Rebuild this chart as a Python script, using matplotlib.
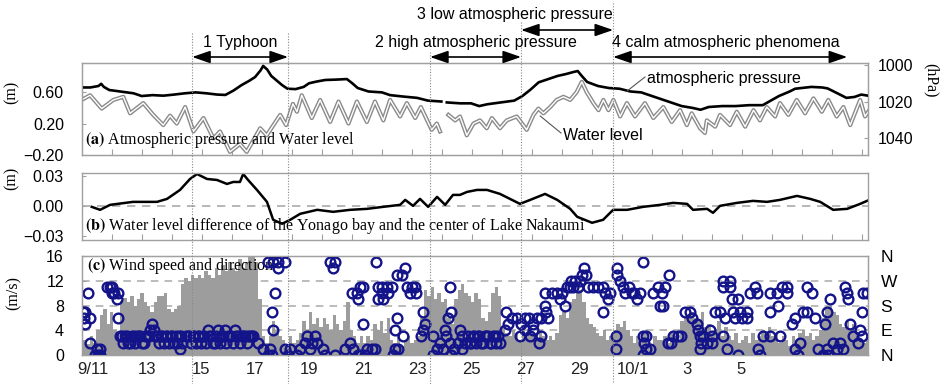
import numpy as np
import matplotlib
matplotlib.use('Agg')
import matplotlib.pyplot as plt

plt.rcParams['font.family'] = ['Liberation Sans', 'DejaVu Sans']
plt.rcParams['mathtext.fontset'] = 'stix'
nan = np.nan

# ---------------- data (time = day number counted from 9/1; 10/1 = 31) ----------
tick_days = [11, 13, 15, 17, 19, 21, 23, 25, 27, 29, 31, 33, 35]
tick_labels = ['9/11', '13', '15', '17', '19', '21', '23', '25', '27', '29', '10/1', '3', '5']
x_min, x_max = 10.59, 39.70

period_bounds = [14.67, 18.22, 23.48, 26.85, 30.26]

pres_days = [10.6, 10.9, 11.2, 11.3, 11.4, 11.6, 12.0, 12.5, 12.8, 13.2,
             13.6, 14.0, 14.4, 14.8, 15.2, 15.6, 15.9, 16.2, 16.5, 16.8,
             17.0, 17.2, 17.3, 17.45, 17.6, 17.8, 18.0, 18.2, 18.5, 18.8,
             19.0, 19.3, 19.6, 20.0, 20.4, 20.6, 20.8, 21.2, 21.7, 22.0,
             22.5, 23.0, 23.4, 23.9, 23.95, 24.1, 24.6, 25.0, 25.3, 25.6,
             26.1, 26.6, 26.9, 27.2, 27.5, 27.9, 28.2, 28.5, 28.8, 28.95,
             29.1, 29.3, 29.7, 30.1, 30.5, 30.9, 31.3, 31.7, 32.0, 32.4,
             32.8, 33.2, 33.5, 33.8, 34.3, 34.8, 35.3, 35.8, 36.1, 36.4,
             36.8, 37.0, 37.3, 37.6, 38.0, 38.2, 38.5, 38.9, 39.2, 39.45, 39.7]
pres_hpa = [1012.3, 1012.3, 1011.5, 1010.3, 1012.0, 1013.7, 1014.5, 1015.5, 1017.0, 1016.5,
            1016.8, 1016.2, 1015.5, 1015.0, 1015.5, 1016.2, 1016.4, 1014.0, 1011.0, 1008.5,
            1006.6, 1003.0, 1000.5, 1002.5, 1006.0, 1008.5, 1011.0, 1013.0, 1013.2, 1012.0,
            1010.0, 1009.0, 1008.2, 1008.0, 1007.7, 1010.0, 1012.6, 1014.5, 1015.0, 1016.5,
            1017.3, 1018.0, 1019.5, 1020.0, nan, 1020.5, 1021.0, 1021.0, 1022.5, 1021.5,
            1020.5, 1019.5, 1017.0, 1013.5, 1009.5, 1007.5, 1006.0, 1005.0, 1003.8, 1003.3,
            1006.0, 1009.3, 1011.5, 1012.6, 1013.0, 1014.5, 1015.0, 1017.0, 1018.5, 1020.5,
            1022.5, 1023.5, 1024.5, 1023.0, 1022.5, 1022.5, 1022.0, 1022.0, 1019.5, 1017.0,
            1014.5, 1013.0, 1012.5, 1012.0, 1012.3, 1012.8, 1015.0, 1018.0, 1017.5, 1016.2, 1016.8]

wl_days = [10.63, 10.89, 11.32, 11.75, 12.12, 12.37, 12.86, 13.23, 13.60, 13.85,
           14.10, 14.41, 14.72, 15.09, 15.46, 15.70, 16.07, 16.44, 16.69, 17.19,
           17.43, 17.93, 18.15, 18.40, 18.55, 18.73, 19.10, 19.41, 19.78, 20.09,
           20.46, 20.77, 21.14, 21.44, 21.75, 22.00, 22.37, 22.62, 22.93, 23.14,
           23.54, 23.73, 23.85, 23.95, 24.16, 24.41, 24.59, 24.84, 25.09, 25.33,
           25.58, 25.77, 26.07, 26.32, 26.69, 27.06, 27.31, 27.49, 27.68, 27.93,
           28.17, 28.42, 28.67, 28.91, 29.10, 29.28, 29.53, 29.72, 29.90, 30.09,
           30.27, 30.52, 30.77, 31.07, 31.44, 31.75, 32.12, 32.43, 32.74, 32.99,
           33.17, 33.48, 33.66, 33.73, 34.04, 34.22, 34.59, 34.84, 35.15, 35.46,
           35.70, 35.95, 36.26, 36.44, 36.75, 37.06, 37.37, 37.68, 37.99, 38.23,
           38.54, 38.79, 39.04, 39.41, 39.59, 39.75]
wl_m = [0.51, 0.56, 0.39, 0.50, 0.54, 0.33, 0.46, 0.31, 0.18, 0.30,
        0.20, 0.41, 0.10, 0.27, 0.01, 0.10, -0.16, -0.06, -0.16, 0.14,
        0.05, 0.31, 0.18, 0.45, 0.35, 0.56, 0.27, 0.50, 0.22, 0.48,
        0.20, 0.48, 0.22, 0.48, 0.24, 0.50, 0.29, 0.46, 0.27, 0.41,
        0.12, 0.20, 0.10, nan, 0.31, 0.24, 0.29, 0.05, 0.20, 0.24,
        0.14, 0.27, 0.14, 0.24, 0.29, 0.12, 0.31, 0.39, 0.33, 0.41,
        0.50, 0.54, 0.50, 0.60, 0.73, 0.60, 0.46, 0.37, 0.50, 0.37,
        0.50, 0.29, 0.46, 0.29, 0.46, 0.27, 0.41, 0.22, 0.37, 0.18,
        0.33, 0.14, 0.08, 0.24, 0.16, 0.31, 0.18, 0.35, 0.16, 0.37,
        0.24, 0.41, 0.29, 0.46, 0.31, 0.50, 0.33, 0.52, 0.35, 0.50,
        0.29, 0.41, 0.18, 0.50, 0.29, 0.37]

diff_days = [10.95, 11.26, 11.63, 12.48, 13.37, 13.74, 14.22, 14.59, 14.85, 15.22,
             15.59, 15.96, 16.19, 16.44, 16.56, 16.74, 17.07, 17.44, 17.67, 18.00,
             18.30, 18.67, 19.30, 19.89, 20.52, 21.15, 21.74, 22.37, 22.56, 22.85,
             23.11, 23.41, 23.74, 24.04, 24.33, 24.59, 24.85, 25.22, 25.59, 26.07,
             26.81, 27.19, 27.74, 28.19, 28.67, 28.93, 29.48, 29.89, 30.26, 30.78,
             31.37, 32.00, 32.48, 33.00, 33.22, 33.74, 33.96, 34.22, 34.85, 35.44,
             35.96, 36.44, 37.07, 37.56, 37.93, 38.41, 38.93, 39.41, 39.75]
diff_m = [-0.001, -0.004, 0.001, 0.004, 0.004, 0.007, 0.016, 0.027, 0.032, 0.027,
          0.026, 0.022, 0.024, 0.024, 0.032, 0.026, 0.016, 0.004, -0.014, -0.018,
          -0.014, -0.008, -0.004, -0.006, -0.004, -0.003, -0.001, 0.001, 0.006, 0.000,
          0.007, -0.001, 0.009, 0.001, 0.011, 0.011, 0.014, 0.016, 0.016, 0.012,
          0.002, 0.006, 0.012, 0.006, -0.003, -0.011, -0.017, -0.014, -0.004, -0.004,
          -0.001, 0.001, 0.003, 0.002, -0.004, -0.003, -0.007, 0.000, 0.003, 0.005,
          0.004, 0.006, 0.010, 0.007, 0.004, -0.004, -0.003, 0.002, 0.006]

# wind speed, 3-hourly, first value 9/10 12:00
wind_start = 10.5
wind_step = 0.125
wind_speed = [2.0, 2.5, 1.8, 3.0,
              2.0, 4.0, 6.5, 7.5, 5.0, 7.0, 4.0, 2.5,
              8.8, 9.2, 8.5, 9.5, 8.0, 9.0, 10.0, 8.5,
              8.0, 7.0, 8.5, 9.5, 9.5, 10.0, 7.5, 7.0,
              7.5, 8.0, 11.5, 12.5, 12.0, 13.0, 12.5, 13.0,
              12.5, 13.5, 13.0, 12.5, 14.0, 13.0, 14.5, 13.5,
              15.0, 14.0, 13.5, 15.5, 14.0, 15.0, 16.5, 16.0,
              15.0, 9.0, 3.0, 2.0, 3.0, 5.5, 4.0, 3.0,
              2.5, 1.5, 3.0, 2.0, 2.5, 3.5, 5.5, 4.0,
              7.0, 5.0, 6.0, 4.5, 6.0, 5.0, 4.0, 6.5,
              5.0, 4.0, 5.5, 8.5, 4.0, 3.0, 2.0, 3.0,
              2.0, 3.0, 2.5, 5.0, 4.0, 5.5, 3.5, 6.0,
              2.5, 2.0, 3.0, 1.5, 2.5, 3.0, 2.0, 2.5,
              3.0, 6.0, 10.5, 9.5, 11.0, 9.0, 10.0, 8.5,
              9.0, 6.0, 5.0, 9.0, 10.5, 11.5, 10.0, 9.5,
              8.5, 10.0, 9.0, 6.0, 5.5, 7.0, 10.0, 11.0,
              9.5, 4.5, 3.5, 3.0, 4.0, 3.5, 2.5, 4.5,
              3.0, 4.0, 3.5, 2.5, 4.0, 3.0, 2.5, 3.0,
              2.5, 3.5, 6.5, 7.0, 6.0, 8.5, 9.0, 10.0,
              10.5, 8.5, 6.0, 5.0, 4.5, 3.5, 3.0, 4.0,
              2.5, 3.0, 4.0, 5.0, 4.5, 5.5, 4.0, 3.0,
              2.0, 3.0, 2.5, 3.5, 2.0, 1.5, 3.0, 2.5,
              2.5, 3.0, 2.0, 3.5, 3.0, 2.5, 5.5, 6.0,
              6.5, 7.0, 6.0, 5.5, 7.0, 4.5, 5.0, 3.5,
              4.0, 5.5, 3.0, 4.5, 3.0, 2.5, 3.5, 2.0,
              2.5, 3.0, 2.0, 3.5, 2.5, 3.0, 4.0, 3.5,
              4.5, 3.0, 3.5, 2.0, 3.0, 2.5, 1.5, 3.0,
              2.5, 3.5, 4.0, 3.0, 3.5, 2.5, 3.0, 4.0,
              6.0, 7.5, 8.0, 7.0, 6.5, 5.0, 4.5, 5.5,
              4.0, 5.0, 3.0, 2.5, 2.0, 3.0]

compass = ['N', 'NNE', 'NE', 'ENE', 'E', 'ESE', 'SE', 'SSE',
           'S', 'SSW', 'SW', 'WSW', 'W', 'WNW', 'NW', 'NNW']
dir_days = [10.62, 10.66, 10.70, 10.70, 10.81, 10.89, 10.89, 11.07, 11.15, 11.19,
            11.26, 11.26, 11.52, 11.63, 11.70, 11.70, 11.78, 11.89, 11.93, 11.93,
            12.00, 12.12, 12.25, 12.38, 12.50, 12.62, 12.75, 12.88, 13.00, 13.12,
            13.19, 13.25, 13.38, 13.50, 13.62, 13.75, 13.88, 14.00, 14.12, 14.25,
            14.22, 14.50, 14.62, 14.75, 14.88, 15.00, 15.12, 15.25, 15.38, 15.50,
            15.62, 15.75, 15.88, 16.00, 16.12, 16.25, 16.38, 16.50, 16.62, 16.75,
            16.88, 16.93, 17.11, 17.30, 17.48, 17.56, 17.63, 17.67, 17.63, 17.74,
            17.48, 17.67, 17.85, 18.11, 17.85, 18.11, 18.22, 18.30, 18.56, 18.67,
            18.85, 18.93, 19.04, 19.11, 19.22, 19.30, 19.52, 19.59, 19.78, 19.96,
            19.89, 19.96, 20.33, 20.52, 20.63, 20.81, 20.93, 20.58, 20.77, 20.81,
            20.89, 21.01, 21.00, 21.07, 21.15, 21.33, 21.44, 21.48, 21.56, 21.70,
            21.89, 22.07, 21.56, 21.74, 21.70, 21.93, 22.19, 22.26, 22.19, 22.30,
            22.11, 22.24, 22.43, 22.56, 22.48, 22.63, 22.81, 22.93, 22.74, 22.96,
            23.22, 23.30, 23.22, 23.15, 23.59, 23.59, 23.74, 23.85, 23.96, 24.22,
            24.26, 24.15, 24.04, 24.08, 24.22, 24.35, 24.26, 24.59, 24.67, 24.67,
            24.52, 24.78, 24.90, 25.00, 25.12, 25.25, 25.38, 25.50, 25.62, 25.75,
            25.88, 26.00, 26.07, 26.26, 26.37, 26.30, 26.52, 26.70, 26.85, 27.00,
            27.15, 27.30, 27.45, 27.60, 26.80, 27.00, 27.20, 27.30, 27.50, 27.60,
            27.74, 27.74, 27.78, 27.85, 28.00, 28.19, 28.30, 28.48, 28.37, 28.56,
            28.67, 28.78, 28.70, 28.85, 29.04, 28.96, 29.10, 29.20, 29.26, 29.33,
            29.52, 29.70, 29.89, 29.96, 30.15, 30.07, 29.89, 30.41, 30.41, 30.52,
            30.63, 30.70, 30.85, 30.96, 31.04, 31.15, 31.26, 30.37, 30.37, 31.37,
            31.37, 31.48, 31.41, 31.48, 31.37, 31.63, 31.74, 31.93, 32.07, 32.19,
            32.33, 32.00, 32.11, 32.30, 32.48, 32.67, 32.78, 32.40, 32.93, 33.11,
            33.17, 33.35, 33.41, 33.48, 33.52, 33.48, 33.59, 33.74, 33.93, 33.93,
            33.85, 34.33, 34.59, 34.33, 34.59, 34.04, 34.22, 34.41, 34.70, 34.78,
            34.96, 35.04, 35.22, 35.22, 34.33, 34.48, 34.67, 34.89, 34.89, 35.33,
            35.59, 35.52, 35.63, 35.70, 35.81, 36.07, 36.07, 36.37, 36.07, 36.33,
            36.52, 36.70, 36.70, 36.44, 36.89, 37.00, 37.00, 37.19, 37.11, 37.30,
            37.44, 37.44, 37.63, 37.74, 37.85, 38.04, 38.19, 38.22, 38.41, 38.56,
            38.67, 38.78, 38.19, 38.11, 38.30, 38.85, 38.93, 38.96, 39.04, 39.15,
            39.48, 39.41, 39.33, 39.48, 39.52, 39.67,
            # extra observations filling the dense NE/ENE band of 9/12-9/17 and 9/25
            12.06, 12.19, 12.31, 12.44, 12.56, 12.69, 12.81, 12.94, 13.06, 13.31,
            13.44, 13.56, 13.69, 13.81, 13.94, 14.06, 14.19, 14.31, 14.44, 14.56,
            14.69, 14.81, 14.94, 15.06, 15.19, 15.31, 15.44, 15.56, 15.69, 15.81,
            15.94, 16.06, 16.19, 16.31, 16.44, 16.56, 16.69, 16.81, 24.96, 25.06,
            25.19, 25.31, 25.44, 25.56, 25.69, 25.81, 25.94]
dir_pts = ['SSE', 'SE', 'SSE', 'ESE', 'SW', 'SE', 'NE', 'N', 'NNE', 'N',
           'N', 'NNE', 'WSW', 'WSW', 'WSW', 'SW', 'SW', 'SSW', 'SW', 'SE',
           'ENE', 'NE', 'ENE', 'NE', 'ENE', 'ENE', 'ENE', 'NE', 'ENE', 'E',
           'ESE', 'E', 'ENE', 'ENE', 'NE', 'ENE', 'ENE', 'NE', 'NE', 'ENE',
           'NNE', 'ENE', 'NE', 'ENE', 'ENE', 'NE', 'ENE', 'E', 'ENE', 'NE',
           'E', 'ENE', 'E', 'ENE', 'ENE', 'E', 'ENE', 'ENE', 'ENE', 'ENE',
           'ENE', 'ENE', 'NE', 'NNE', 'N', 'NNE', 'N', 'E', 'SSE', 'SW',
           'NNW', 'NNW', 'NNW', 'NNW', 'NW', 'NNE', 'N', 'NNE', 'N', 'NNE',
           'NE', 'ENE', 'NNE', 'NE', 'ENE', 'NE', 'NNE', 'N', 'NNW', 'NNW',
           'NW', 'N', 'NNE', 'NE', 'NNE', 'N', 'N', 'SW', 'SW', 'SSW',
           'WSW', 'WSW', 'ESE', 'N', 'NNE', 'NNE', 'NNE', 'NNW', 'WSW', 'WSW',
           'WSW', 'WSW', 'SSW', 'SSW', 'SW', 'SW', 'E', 'SE', 'NNE', 'NNE',
           'N', 'WNW', 'WNW', 'NW', 'ENE', 'WSW', 'WSW', 'WSW', 'SW', 'SW',
           'SSE', 'ESE', 'E', 'ENE', 'ENE', 'N', 'NNE', 'NE', 'NNE', 'WSW',
           'SSE', 'SE', 'E', 'ENE', 'NE', 'NNE', 'N', 'E', 'ENE', 'NNE',
           'NE', 'NE', 'ENE', 'NE', 'ENE', 'ENE', 'NE', 'ENE', 'ENE', 'NE',
           'ENE', 'ENE', 'NE', 'E', 'ESE', 'SSE', 'SE', 'SE', 'ESE', 'SE',
           'SE', 'ESE', 'SE', 'SE', 'ENE', 'E', 'ENE', 'E', 'NE', 'ENE',
           'SW', 'S', 'SSE', 'SE', 'SW', 'SW', 'SSW', 'S', 'SW', 'WSW',
           'WSW', 'WSW', 'W', 'W', 'W', 'WSW', 'WNW', 'NW', 'WNW', 'WSW',
           'WSW', 'WSW', 'WSW', 'SW', 'SW', 'SSW', 'SSE', 'NW', 'WNW', 'W',
           'WSW', 'SW', 'WSW', 'SW', 'SW', 'SSW', 'SW', 'ENE', 'NNE', 'NNW',
           'ENE', 'ENE', 'NE', 'NNE', 'N', 'NNE', 'SW', 'WSW', 'SW', 'WSW',
           'WNW', 'S', 'S', 'NE', 'ENE', 'ENE', 'ENE', 'NE', 'SSE', 'SSE',
           'SE', 'ESE', 'E', 'ENE', 'NE', 'NNE', 'ENE', 'NE', 'ENE', 'NE',
           'E', 'W', 'W', 'WSW', 'WSW', 'SSE', 'SSE', 'SE', 'SSE', 'SE',
           'SSE', 'SE', 'SSE', 'SE', 'ENE', 'NNE', 'SSW', 'SSW', 'N', 'SW',
           'SW', 'WSW', 'NNE', 'N', 'ENE', 'ENE', 'SSE', 'S', 'SW', 'SW',
           'WSW', 'SW', 'WSW', 'ENE', 'ESE', 'SE', 'NNE', 'NE', 'N', 'SSE',
           'SSE', 'WSW', 'SW', 'SE', 'NNE', 'N', 'NNE', 'N', 'NE', 'NNE',
           'NE', 'NNE', 'SSE', 'ESE', 'SSW', 'WSW', 'SW', 'SSW', 'ESE', 'ENE',
           'ENE', 'E', 'NE', 'SSE', 'SW', 'SW',
           'ENE', 'ENE', 'NE', 'ENE', 'NE', 'ENE', 'NE', 'ENE', 'ENE', 'ENE',
           'NE', 'ENE', 'ENE', 'NE', 'ENE', 'ENE', 'ENE', 'NE', 'ENE', 'ENE',
           'ENE', 'NE', 'ENE', 'ENE', 'NE', 'ENE', 'NE', 'ENE', 'NE', 'ENE',
           'NE', 'ENE', 'NE', 'ENE', 'NE', 'ENE', 'NE', 'ENE', 'NE', 'ENE',
           'NE', 'ENE', 'NE', 'ENE', 'NE', 'ENE', 'NE']

# ---------------- figure -------------------------------------------------------
W_PX, H_PX = 942, 384
fig = plt.figure(figsize=(W_PX / 100, H_PX / 100), dpi=100)


def box(l, t, r, b):
    return [l / W_PX, 1 - b / H_PX, (r - l) / W_PX, (b - t) / H_PX]


ax_a = fig.add_axes(box(82, 63, 868, 155))
ax_b = fig.add_axes(box(82, 173, 868, 240))
ax_c = fig.add_axes(box(82, 256, 868, 355))

spine_col = '#a0a0a0'
minor_pos = np.arange(11.704, x_max, 10 / 9)
serif = ['Liberation Serif', 'DejaVu Serif']

for ax in (ax_a, ax_b, ax_c):
    ax.set_xlim(x_min, x_max)
    for s in ax.spines.values():
        s.set_color(spine_col)
        s.set_linewidth(1.0)
    ax.set_xticks(minor_pos)
    ax.tick_params(axis='x', direction='in', length=4, color=spine_col,
                   labelbottom=False)
    ax.tick_params(axis='y', direction='in', length=3, color=spine_col,
                   labelsize=11.5, pad=13)

# ---- panel a
ax_a.set_ylim(-0.2, 0.97)
ax_a.set_yticks([-0.2, 0.2, 0.6])
ax_a.set_yticklabels(['\u22120.20', '0.20', '0.60'])
ax_a.plot(wl_days, wl_m, color='#8a8a8a', lw=3.0, solid_joinstyle='round')
ax_a.plot(wl_days, wl_m, color='white', lw=1.0, solid_joinstyle='round')
ax_p = ax_a.twinx()
ax_p.set_xlim(x_min, x_max)
ax_p.set_ylim(1049.3, 998.9)
ax_p.set_yticks([1000, 1020, 1040])
ax_p.tick_params(axis='y', direction='in', length=3, color=spine_col,
                 labelsize=11.5, pad=7)
for s in ax_p.spines.values():
    s.set_color(spine_col)
ax_p.plot(pres_days, pres_hpa, color='black', lw=1.9)
ax_a.text(0.004, 0.165, r'$\mathbf{(a)}$ Atmospheric pressure and Water level',
          transform=ax_a.transAxes, family=serif, fontsize=11.5, va='center',
          ha='left', zorder=6)

# ---- panel b
ax_b.set_ylim(-0.0343, 0.033)
ax_b.set_yticks([-0.03, 0.0, 0.03])
ax_b.set_yticklabels(['\u22120.03', '0.00', '0.03'])
ax_b.axhline(0, color='#aaaaaa', lw=1.2, ls=(0, (5, 4)))
ax_b.plot(diff_days, diff_m, color='black', lw=1.8)
ax_b.text(0.004, 0.21,
          r'$\mathbf{(b)}$ Water level difference of the Yonago bay and the center of Lake Nakaumi',
          transform=ax_b.transAxes, family=serif, fontsize=11.5, va='center', ha='left')

# ---- panel c
ax_c.set_ylim(0, 16)
ax_c.set_yticks([0, 4, 8, 12, 16])
for yv in (4, 8, 12):
    ax_c.axhline(yv, color='#aaaaaa', lw=1.1, ls=(0, (5, 4)), zorder=0.5)
wind_times = wind_start + wind_step * np.arange(len(wind_speed))
ax_c.bar(wind_times, wind_speed, width=wind_step, align='edge',
         color='#9d9d9d', linewidth=0, zorder=1)
ax_d = ax_c.twinx()
ax_d.set_xlim(x_min, x_max)
ax_d.set_ylim(0, 360)
ax_d.set_yticks([0, 90, 180, 270, 360])
ax_d.set_yticklabels(['N', 'E', 'S', 'W', 'N'])
ax_d.tick_params(axis='y', length=0, labelsize=12.5, pad=9)
for s in ax_d.spines.values():
    s.set_color(spine_col)
dir_deg = [compass.index(p) * 22.5 for p in dir_pts]
ax_d.plot(dir_days, dir_deg, linestyle='none', marker='o', ms=7.0,
          mfc='none', mec='#14148a', mew=1.7, clip_on=True)
ax_c.text(0.006, 0.9, r'$\mathbf{(c)}$ Wind speed and direction',
          transform=ax_c.transAxes, family=serif, fontsize=11.5, va='center',
          ha='left', zorder=6)

# ---- overlay: dates, period lines, annotations (y measured in pixels from top)
ov = fig.add_axes([82 / W_PX, 0, (868 - 82) / W_PX, 1], zorder=10)
ov.set_xlim(x_min, x_max)
ov.set_ylim(H_PX, 0)
ov.axis('off')
ov.patch.set_alpha(0)

for d, lab in zip(tick_days, tick_labels):
    ov.text(d, 370, lab, ha='center', va='center', fontsize=12, color='#222222')

line_tops = [33, 33, 52, 22, 3]
for d, top in zip(period_bounds, line_tops):
    ov.plot([d, d], [top, 384], color='#888888', lw=0.8, ls=(0, (1, 1.5)))

arrow_kw = dict(arrowstyle='<|-|>,head_length=1.1,head_width=0.38', color='black',
                lw=1.2, shrinkA=0, shrinkB=0, mutation_scale=10)
ov.annotate('', xy=(period_bounds[1], 57), xytext=(period_bounds[0], 57), arrowprops=arrow_kw)
ov.annotate('', xy=(period_bounds[3], 57), xytext=(period_bounds[2], 57), arrowprops=arrow_kw)
ov.annotate('', xy=(period_bounds[4], 30), xytext=(period_bounds[3], 30), arrowprops=arrow_kw)
ov.annotate('', xy=(38.93, 57), xytext=(period_bounds[4], 57), arrowprops=arrow_kw)

ov.text((period_bounds[0] + period_bounds[1]) / 2, 43, '1 Typhoon', ha='center',
        va='center', fontsize=11.5)
ov.text((period_bounds[2] + period_bounds[3]) / 2, 43, '2 high atmospheric pressure',
        ha='center', va='center', fontsize=11.5)
ov.text(period_bounds[4], 15, '3 low atmospheric pressure', ha='right',
        va='center', fontsize=11.5)
ov.text(period_bounds[4] - 0.05, 43, '4 calm atmospheric phenomena', ha='left',
        va='center', fontsize=11.5)

# callouts
ov.plot([30.78, 31.44], [91, 77], color='#555555', lw=0.8)
ov.text(31.52, 78, 'atmospheric pressure', ha='left', va='center', fontsize=11.5)
ov.plot([27.56, 28.33], [116, 133], color='#555555', lw=0.8)
ov.text(28.41, 136, 'Water level', ha='left', va='center', fontsize=11.5)

# unit labels
fig.text(12 / W_PX, 1 - 92 / H_PX, '(m)', rotation=90, ha='center', va='center',
         family=serif, fontsize=11.5)
fig.text(12 / W_PX, 1 - 178 / H_PX, '(m)', rotation=90, ha='center', va='center',
         family=serif, fontsize=11.5)
fig.text(14 / W_PX, 1 - 293 / H_PX, '(m/s)', rotation=90, ha='center', va='center',
         family=serif, fontsize=11.5)
fig.text(931 / W_PX, 1 - 80 / H_PX, '(hPa)', rotation=-90, ha='center', va='center',
         family=serif, fontsize=11.5)

fig.savefig('out.png', dpi=100)
